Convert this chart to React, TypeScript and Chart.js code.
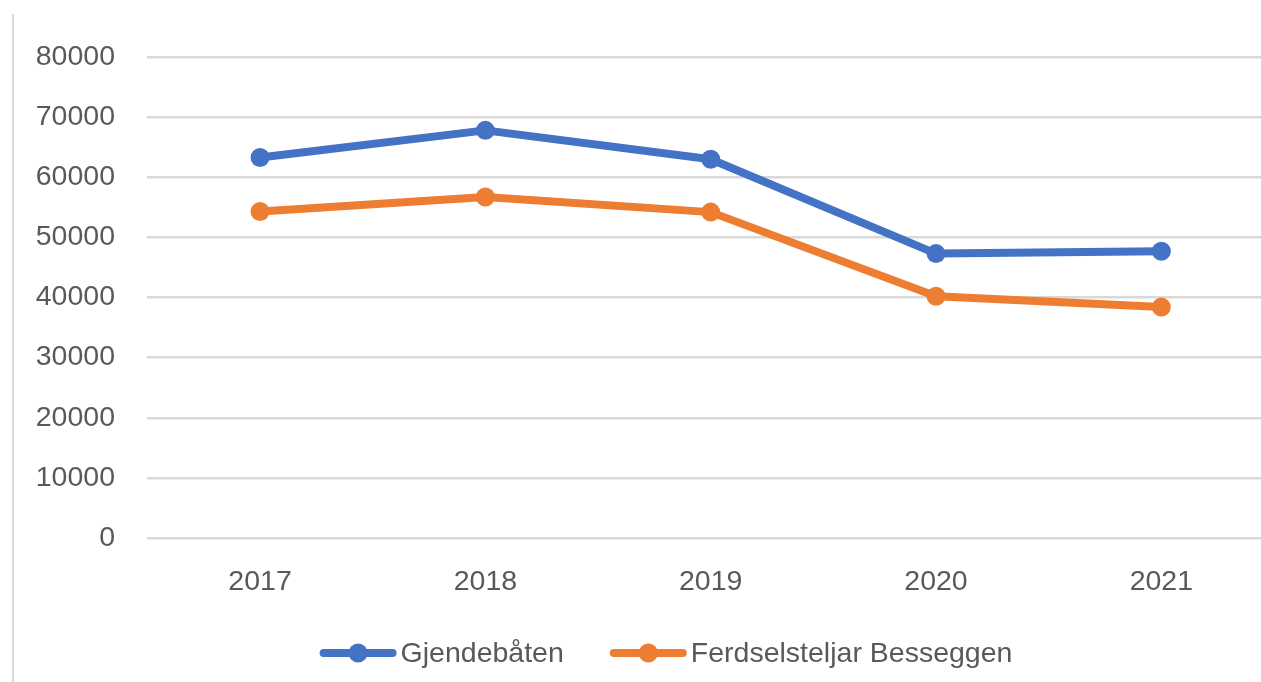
import React, { useEffect, useRef } from "react";
import { Chart, registerables } from "chart.js";

Chart.register(...registerables);

const years = ["2017", "2018", "2019", "2020", "2021"];
const gjendebaten = [63300, 67800, 63000, 47300, 47700];
const ferdselsteljar = [54300, 56700, 54200, 40200, 38400];
const seriesNames = ["Gjendebåten", "Ferdselsteljar Besseggen"];
const seriesColors = ["#4472C4", "#ED7D31"];

const FONT = "'Liberation Sans', Arial, sans-serif";
const TEXT = "#595959";

const legendPlugin = {
  id: "lineLegend",
  afterDraw(chart: any) {
    const ctx = chart.ctx;
    const ds = chart.data.datasets;
    ctx.save();
    ctx.font = `28.5px ${FONT}`;
    const lineLen = 75;
    const textGap = 5;
    const itemGap = 47;
    const widths = ds.map((d: any) => ctx.measureText(d.label).width);
    let total = 0;
    widths.forEach((w: number, i: number) => {
      total += lineLen + textGap + w + (i < widths.length - 1 ? itemGap : 0);
    });
    let x = chart.width / 2 - total / 2;
    const y = 653;
    ds.forEach((d: any, i: number) => {
      ctx.strokeStyle = d.borderColor;
      ctx.lineWidth = d.borderWidth;
      ctx.lineCap = "round";
      ctx.beginPath();
      ctx.moveTo(x + 3, y);
      ctx.lineTo(x + lineLen - 3, y);
      ctx.stroke();
      ctx.fillStyle = d.borderColor;
      ctx.beginPath();
      ctx.arc(x + lineLen / 2, y, d.pointRadius, 0, Math.PI * 2);
      ctx.fill();
      ctx.fillStyle = TEXT;
      ctx.textBaseline = "middle";
      ctx.textAlign = "left";
      ctx.fillText(d.label, x + lineLen + textGap, y + 1);
      x += lineLen + textGap + widths[i] + itemGap;
    });
    ctx.restore();
  },
};

export default function App() {
  const ref = useRef<HTMLCanvasElement>(null);
  useEffect(() => {
    if (!ref.current) return;
    const chart = new Chart(ref.current, {
      type: "line",
      data: {
        labels: years,
        datasets: [gjendebaten, ferdselsteljar].map((vals, i) => ({
          label: seriesNames[i],
          data: vals,
          borderColor: seriesColors[i],
          backgroundColor: seriesColors[i],
          borderWidth: 8,
          pointRadius: 9.5,
          pointHoverRadius: 9.5,
          pointBorderWidth: 0,
          tension: 0,
          borderJoinStyle: "round" as const,
          borderCapStyle: "round" as const,
        })),
      },
      options: {
        responsive: false,
        animation: false,
        layout: { padding: { top: 57, right: 47, bottom: 74, left: 0 } },
        plugins: {
          legend: { display: false },
          tooltip: { enabled: false },
        },
        scales: {
          x: {
            offset: true,
            grid: { display: false, drawTicks: false },
            border: { display: false },
            ticks: {
              color: TEXT,
              font: { family: FONT, size: 28.5 },
              padding: 27,
            },
            afterFit: (s: any) => {
              s.height = 70;
            },
          },
          y: {
            min: 0,
            max: 80000,
            grid: { color: "#d9d9d9", lineWidth: 2.5, drawTicks: false },
            border: { display: false },
            ticks: {
              stepSize: 10000,
              color: TEXT,
              font: { family: FONT, size: 28.5 },
              padding: 32.4,
              callback: (v: any) => String(v),
            },
            afterFit: (s: any) => {
              s.width = 135.4;
            },
          },
        },
      },
      plugins: [legendPlugin],
    });
    return () => chart.destroy();
  }, []);
  return (
    <div
      style={{
        position: "fixed",
        left: 0,
        top: 0,
        width: 1261,
        height: 682,
        overflow: "hidden",
        background: "#fff",
      }}
    >
      <div
        style={{
          position: "absolute",
          left: 12,
          top: 14,
          height: 668,
          borderLeft: "2px solid #d9d9d9",
        }}
      />
      <canvas
        ref={ref}
        width={1309}
        height={682}
        style={{ position: "absolute", left: 12, top: 0, width: 1309, height: 682 }}
      />
    </div>
  );
}
